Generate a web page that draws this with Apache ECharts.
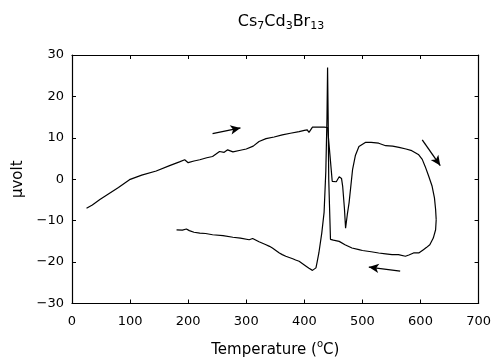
<!DOCTYPE html>
<html><head><meta charset="utf-8">
<script src="https://cdn.jsdelivr.net/npm/echarts@6/dist/echarts.min.js"></script>
<style>html,body{margin:0;padding:0;background:#fff}#c{width:494px;height:363px}</style>
</head><body><div id="c"></div>
<script>
// Heating branch (temperature °C, signal µV)
const heatT = [25, 35, 48, 62, 80, 99, 120, 145, 168, 185, 194, 200, 210, 220, 232, 242, 254, 262, 268, 277, 290, 300, 312, 322, 334, 348, 362, 376, 391, 400, 405, 408, 414, 424, 434, 437, 440, 444, 448, 455, 460, 464, 466, 469, 471, 474, 477, 483, 488, 494, 505, 515, 528, 540, 552, 563, 575, 585, 597, 603, 608, 614, 620, 624, 626, 627];
const heatV = [-7.0, -6.2, -4.9, -3.6, -2.0, -0.1, 1.0, 2.0, 3.3, 4.2, 4.7, 4.0, 4.4, 4.7, 5.2, 5.5, 6.7, 6.5, 7.1, 6.6, 7.0, 7.3, 8.0, 9.1, 9.8, 10.2, 10.7, 11.1, 11.5, 11.8, 11.9, 11.3, 12.6, 12.6, 12.6, 12.7, 12.5, 6.0, -0.5, -0.6, 0.6, 0.2, -1.7, -7.0, -11.8, -8.5, -5.7, 2.3, 5.8, 7.9, 8.9, 8.9, 8.7, 8.1, 8.0, 7.7, 7.3, 6.9, 5.9, 4.8, 3.1, 0.8, -1.7, -4.5, -7.3, -9.8];
// Cooling branch
const coolT = [627, 626, 622, 616, 610, 605, 597, 588, 580, 574, 562, 551, 540, 528, 515, 500, 494, 482, 470, 460, 450, 445, 443, 442, 441, 440, 439, 437, 434, 430, 425, 422, 420, 414, 408, 403, 397, 391, 385, 380, 374, 368, 362, 357, 351, 345, 340, 334, 322, 311, 305, 290, 277, 260, 242, 230, 220, 210, 202, 197, 190, 180];
const coolV = [-9.8, -12.2, -14.2, -15.8, -16.5, -17.0, -17.8, -17.8, -18.3, -18.6, -18.2, -18.2, -18.0, -17.8, -17.5, -17.2, -17.0, -16.6, -15.8, -15.0, -14.7, -14.5, -14.2, 0.0, 15.0, 27.0, 15.0, 2.0, -8.0, -13.0, -17.8, -20.0, -21.4, -22.0, -21.5, -21.0, -20.4, -19.8, -19.5, -19.2, -18.9, -18.6, -18.2, -17.8, -17.2, -16.6, -16.2, -15.8, -15.1, -14.3, -14.6, -14.2, -14.0, -13.6, -13.4, -13.1, -13.0, -12.8, -12.4, -12.0, -12.3, -12.2];
// Direction arrows [T1, V1, T2, V2]
const arrowHeat = [242, 11.0, 290, 12.4];
const arrowDown = [603, 9.5, 634, 3.3];
const arrowCool = [565, -22.2, 511, -21.2];
const xTicks = [0, 100, 200, 300, 400, 500, 600, 700];
const yTicks = [-30, -20, -10, 0, 10, 20, 30];

const zip = (a, b) => a.map((v, i) => [v, b[i]]);
const font = 'DejaVu Sans';
const arrow = a => [{coord: [a[0], a[1]]}, {coord: [a[2], a[3]]}];

const chart = echarts.init(document.getElementById('c'), null, {renderer: 'canvas'});
const axisCommon = {
  axisLine: {show: true, onZero: false, lineStyle: {color: '#000', width: 1.2}},
  axisTick: {show: true, inside: true, length: 4, lineStyle: {color: '#000', width: 1}},
  splitLine: {show: false}
};
chart.setOption({
  backgroundColor: '#fff',
  animation: false,
  title: {
    text: '{a|Cs}{s|7}{a|Cd}{s|3}{a|Br}{s|13}',
    left: 276, textAlign: 'center', top: 6,
    textStyle: {
      fontWeight: 'normal',
      rich: {
        a: {fontFamily: font, fontSize: 16, color: '#000', fontWeight: 'normal'},
        s: {fontFamily: font, fontSize: 11, color: '#000', fontWeight: 'normal', padding: [10, 0, 0, 0]}
      }
    }
  },
  grid: {left: 72, right: 14, top: 55, bottom: 59},
  xAxis: [{
    type: 'value', min: xTicks[0], max: xTicks[xTicks.length - 1], interval: 100,
    position: 'bottom',
    ...axisCommon,
    axisLabel: {color: '#000', fontFamily: font, fontSize: 13, margin: 12},
    name: 'Temperature ({o|o}C)', nameLocation: 'middle', nameGap: 36,
    nameTextStyle: {color: '#000', fontFamily: font, fontSize: 15,
      rich: {o: {fontFamily: font, fontSize: 10, color: '#000', padding: [0, 0, 12, 0]}}}
  }, {
    type: 'value', min: xTicks[0], max: xTicks[xTicks.length - 1], interval: 100,
    position: 'top', ...axisCommon, axisLabel: {show: false}
  }],
  yAxis: [{
    type: 'value', min: yTicks[0], max: yTicks[yTicks.length - 1], interval: 10,
    position: 'left', ...axisCommon,
    axisLabel: {color: '#000', fontFamily: font, fontSize: 13, margin: 8,
      formatter: v => v < 0 ? '\u2212' + Math.abs(v) : String(v)},
    name: '\u03bcvolt', nameLocation: 'middle', nameGap: 46, nameRotate: 90,
    nameTextStyle: {color: '#000', fontFamily: font, fontSize: 15}
  }, {
    type: 'value', min: yTicks[0], max: yTicks[yTicks.length - 1], interval: 10,
    position: 'right', ...axisCommon, axisLabel: {show: false}
  }],
  series: [{
    type: 'line', name: 'heating', data: zip(heatT, heatV), showSymbol: false,
    lineStyle: {color: '#000', width: 1.2}, smooth: false,
    markLine: {
      silent: true, symbol: ['none', 'arrow'], symbolSize: [7, 10],
      label: {show: false},
      lineStyle: {color: '#000', width: 1.3, type: 'solid'},
      data: [arrow(arrowHeat), arrow(arrowDown), arrow(arrowCool)]
    }
  }, {
    type: 'line', name: 'cooling', data: zip(coolT, coolV), showSymbol: false,
    lineStyle: {color: '#000', width: 1.2}, smooth: false
  }]
});
</script></body></html>
